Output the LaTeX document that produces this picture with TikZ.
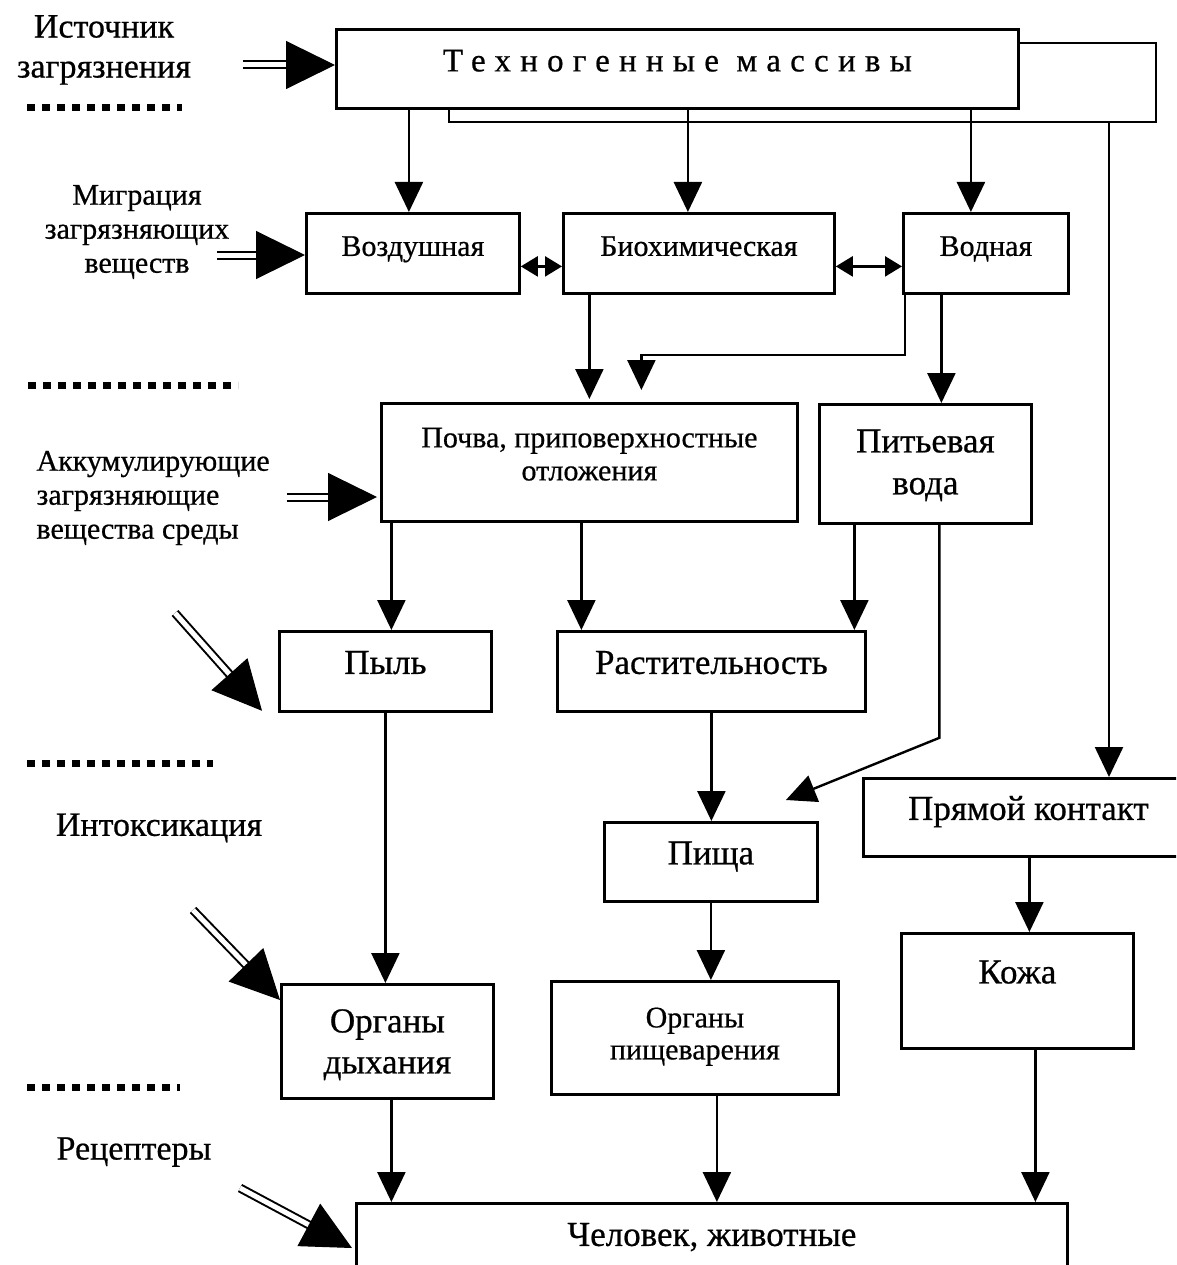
\documentclass[tikz,border=0pt]{standalone}
\usepackage{fontspec}
\setmainfont{Liberation Serif}[FakeBold=0.6]
\usepackage{tikz}
\usetikzlibrary{positioning,arrows.meta,calc}

\newcommand\fsmall{\fontsize{30pt}{34pt}\selectfont}
\newcommand\fbig{\fontsize{35pt}{41pt}\selectfont}
\newcommand\flab{\fontsize{34pt}{40pt}\selectfont}
\newcommand\fttl{\fontsize{33pt}{40pt}\selectfont\addfontfeature{LetterSpace=28}}

% double shaft with a big filled head
\newcommand\bigarrow[2]{%
  \draw[dblshaft] (#1) -- ($(#2)!40pt!(#1)$);
  \draw[bighead] ($(#2)!49pt!(#1)$) -- (#2);
}

\tikzset{
  blk/.style={draw, line width=2.8pt, anchor=north west, inner sep=0pt,
              align=center, font=\fsmall},
  blkbig/.style={blk, font=\fbig},
  one/.style={text height=0.72em, text depth=0.22em},
  arr/.style={-{Triangle[length=30pt,width=28pt]}, line width=2.4pt},
  biarr/.style={{Triangle[length=17pt,width=20pt]}-{Triangle[length=17pt,width=20pt]},
                line width=2.4pt},
  conn/.style={line width=2.4pt},
  dblshaft/.style={double, double distance=5pt, line width=2pt},
  bighead/.style={-{Triangle[length=49pt,width=48pt]}, line width=1pt},
  dotline/.style={line width=7pt, dash pattern=on 8pt off 7pt},
  lbl/.style={align=center, font=\fsmall},
}

\begin{document}
\begin{tikzpicture}[x=1pt,y=-1pt]
  \useasboundingbox (0,0) rectangle (1176,1265);
  \clip (0,0) rectangle (1176,1265);

  % boxes
  \node[blk, one, minimum width=682pt, minimum height=79pt, font=\fttl] (tech) at (335,28) {Техногенные массивы};

  \node[blk, one, minimum width=213pt, minimum height=80pt] (vozd) at (305,212) {Воздушная};
  \node[blk, one, minimum width=271pt, minimum height=80pt] (bio) at (562,212) {Биохимическая};
  \node[blk, one, minimum width=165pt, minimum height=80pt] (vodn) at (902,212) {Водная};

  \node[blk, minimum width=416pt, text height=77pt, text depth=41pt] (pochva) at (380,402) {Почва, приповерхностные\\[-1pt]отложения};
  \node[blkbig, minimum width=212pt, text height=90pt, text depth=29pt] (pitev) at (818,403) {Питьевая\\[1pt]вода};

  \node[blkbig, one, minimum width=212pt, minimum height=80pt] (pyl) at (278,630) {Пыль};
  \node[blkbig, one, minimum width=308pt, minimum height=80pt] (rast) at (556,630) {Растительность};

  \node[blkbig, one, minimum width=330pt, minimum height=78pt] (pryam) at (862,777) {Прямой контакт};
  \node[blkbig, one, minimum width=213pt, minimum height=79pt] (pisha) at (603,821) {Пища};
  \node[blkbig, minimum width=232pt, text height=50pt, text depth=65pt] (kozha) at (900,932) {Кожа};

  \node[blkbig, minimum width=212pt, text height=89pt, text depth=25pt] (dyh) at (280,983) {Органы\\дыхания};
  \node[blk, minimum width=287pt, text height=78pt, text depth=35pt] (pishev) at (550,980) {Органы\\[-2pt]пищеварения};

  \node[blkbig, one, minimum width=711pt, minimum height=80pt] (chel) at (355,1202) {Человек, животные};

  % left labels
  \node[lbl, font=\flab] (ist) at (104,50) {Источник\\загрязнения};
  \node[lbl] (migr) at (137,232) {Миграция\\загрязняющих\\веществ};
  \node[lbl, align=left, anchor=west] (akk) at (33,498) {Аккумулирующие\\загрязняющие\\вещества среды};
  \node[lbl, font=\flab] (intox) at (159,828) {Интоксикация};
  \node[lbl, font=\flab] (recep) at (134,1152) {Рецептеры};

  \draw[dotline] (27,108) -- (182,108);
  \draw[dotline] (28,385) -- (238,385);
  \draw[dotline] (27,763) -- (213,763);
  \draw[dotline] (27,1087) -- (180,1087);

  % frame round the source
  \coordinate (frR) at (1156,122);
  \coordinate (frL) at (449,122);
  \coordinate (frP) at (1109,122);
  \draw[conn] ([yshift=-15pt]tech.north east) -| (frR) -- (frL) -- (frL |- tech.south);

  % migration
  \draw[arr] ([xshift=-4pt]vozd.north |- tech.south) -- ([xshift=-4pt]vozd.north);
  \draw[arr] ([xshift=-11pt]bio.north |- tech.south) -- ([xshift=-11pt]bio.north);
  \draw[arr] ([xshift=-15pt]vodn.north |- tech.south) -- ([xshift=-15pt]vodn.north);
  \draw[arr] (frP) -- (frP |- pryam.north);
  \draw[biarr] ([yshift=-13pt]vozd.east) -- ([yshift=-13pt]vozd.east -| bio.west);
  \draw[biarr] ([yshift=-13pt]bio.east) -- ([yshift=-13pt]bio.east -| vodn.west);

  % accumulation
  \draw[arr] (pochva.north |- bio.south) -- ([yshift=3pt]pochva.north);
  \draw[arr] ([xshift=3pt]vodn.south west) -- ++(0,60) -| ([xshift=52pt,yshift=12pt]pochva.north);
  \draw[arr] ([xshift=16pt]pitev.north |- vodn.south) -- ([xshift=16pt]pitev.north);

  \draw[arr] ([xshift=6pt]pyl.north |- pochva.south) -- ([xshift=6pt]pyl.north);
  \draw[arr] ([xshift=-130pt]rast.north |- pochva.south) -- ([xshift=-130pt]rast.north);
  \draw[arr] ([xshift=-71pt]pitev.south) -- ([xshift=-71pt]pitev.south |- rast.north);
  \draw[arr] ([xshift=14pt]pitev.south) -- ++(0,213) -- ([xshift=75pt,yshift=21pt]pisha.north);

  % intoxication
  \draw[arr] (pyl.south) -- (pyl.south |- dyh.north);
  \draw[arr] (rast.south) -- (rast.south |- pisha.north);
  \draw[arr] (pisha.south) -- (pisha.south |- pishev.north);
  \draw[arr] ([xshift=12pt]kozha.north |- pryam.south) -- ([xshift=12pt]kozha.north);

  % receptors
  \draw[arr] ([xshift=4pt]dyh.south) -- ([xshift=4pt]dyh.south |- chel.north);
  \draw[arr] ([xshift=22pt]pishev.south) -- ([xshift=22pt]pishev.south |- chel.north);
  \draw[arr] ([xshift=18pt]kozha.south) -- ([xshift=18pt]kozha.south |- chel.north);

  % inputs from the left
  \coordinate (srcA) at (243,65);
  \coordinate (srcB) at (217,255);
  \coordinate (srcC) at (287,497);
  \coordinate (srcD) at (175,613);
  \coordinate (srcE) at (193,910);
  \coordinate (srcF) at (240,1188);
  \bigarrow{srcA}{tech.west |- srcA}
  \bigarrow{srcB}{vozd.west |- srcB}
  \bigarrow{srcC}{[xshift=-3pt]pochva.west |- srcC}
  \bigarrow{srcD}{[xshift=-16pt,yshift=2pt]pyl.south west}
  \bigarrow{srcE}{[yshift=-17pt]dyh.north west}
  \bigarrow{srcF}{[xshift=-3pt,yshift=-46pt]chel.north west}
\end{tikzpicture}
\end{document}
